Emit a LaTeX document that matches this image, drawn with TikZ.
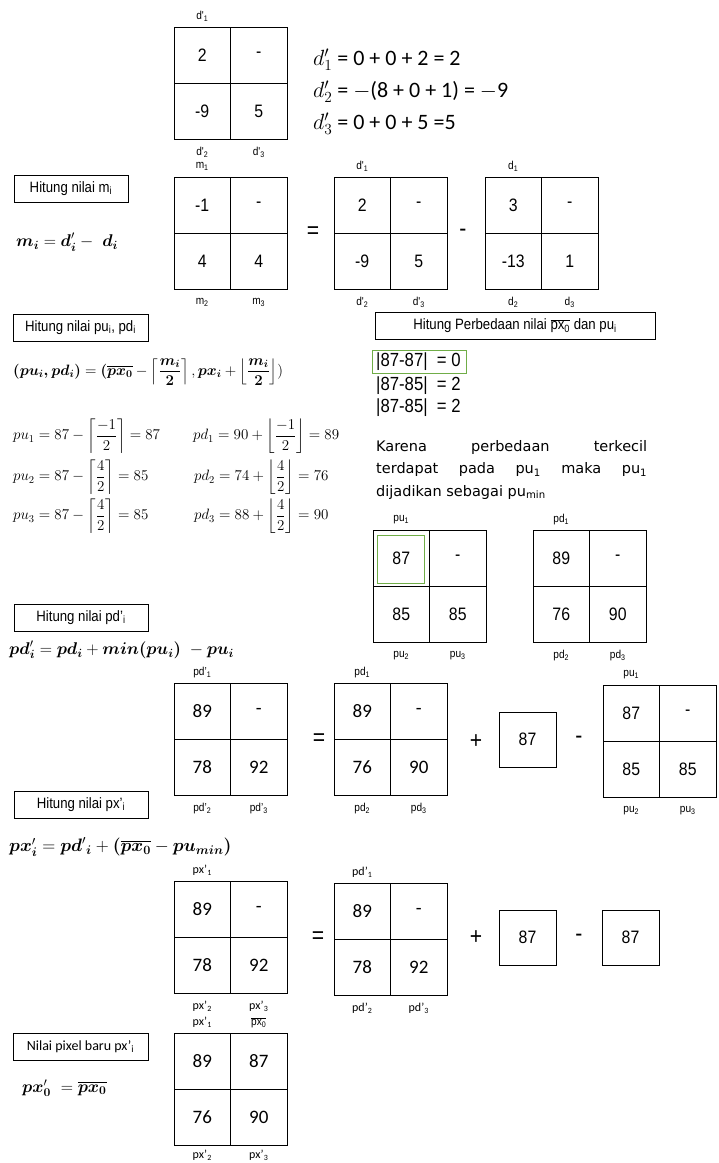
\RequirePackage{fix-cm}
\documentclass[tikz,border=0pt]{standalone}
\usepackage{amsmath}
\usepackage{fontspec}
\newfontfamily\nar[FakeStretch=0.88]{Liberation Sans}
\newfontfamily\crl{Carlito}
\newfontfamily\dvs{DejaVu Sans}
\definecolor{ogreen}{RGB}{112,173,71}
\tikzset{
 cell/.style={draw, line width=1pt, minimum width=56.5pt, minimum height=56pt, inner sep=0pt, font=\nar\fontsize{18}{20}\selectfont},
 ccell/.style={cell, font=\crl\fontsize{19}{22}\selectfont},
 kbox/.style={cell, minimum width=57pt, minimum height=55pt},
 lab/.style={inner sep=0pt, font=\nar\fontsize{11.5}{13}\selectfont},
 clab/.style={inner sep=0pt, font=\crl\fontsize{12}{14}\selectfont},
 hbox/.style={draw, line width=0.8pt, inner sep=0pt, minimum height=27pt, font=\nar\fontsize{15}{17}\selectfont},
 op/.style={inner sep=0pt, font=\nar\fontsize{24}{26}\selectfont},
 txt/.style={inner sep=0pt, anchor=west},
 fml/.style={txt, font=\fontsize{17}{20}\selectfont},
 eqn/.style={txt, font=\fontsize{15}{18}\selectfont},
 top/.style={txt, font=\crl\fontsize{22}{24}\selectfont},
 dif/.style={txt, font=\nar\fontsize{19}{21}\selectfont},
 gbox/.style={draw=ogreen, line width=1pt, inner sep=0pt}
}
\newcommand{\mtx}[8]{%
 \node[#8] (#1a) at (#2+28.25,#3+28) {#4};
 \node[#8] (#1b) at (#2+84.75,#3+28) {#5};
 \node[#8] (#1c) at (#2+28.25,#3+84) {#6};
 \node[#8] (#1d) at (#2+84.75,#3+84) {#7};}
\newcommand{\mlab}[5]{%
 \path (#1a.north) ++(0,-10) node[#5] (#1t) {#2};
 \path (#1c.south) ++(0,13) node[#5] (#1u) {#3};
 \path (#1d.south) ++(0,13) node[#5] (#1v) {#4};}
\newcommand{\pxbar}{$\overline{\mbox{px\textsubscript{0}}}$}
\newcommand{\bs}[1]{\boldsymbol{#1}}
\delimitershortfall=8pt
\begin{document}
\begin{tikzpicture}[x=1pt,y=-1pt]
\useasboundingbox[fill=white] (0,0) rectangle (719,1163);

% ---- d' matrix (top)
\mtx{D}{174}{27}{2}{-}{-9}{5}{cell}
\mlab{D}{d'\textsubscript{1}}{d'\textsubscript{2}}{d'\textsubscript{3}}{lab}
\node[top] (e1) at (313,60) {$d'_1$ = 0 + 0 + 2 = 2};
\node[top] (e2) at (313,92) {$d'_2$ = $-$(8 + 0 + 1) = $-$9};
\node[top] (e3) at (313,124) {$d'_3$ = 0 + 0 + 5 =5};

% ---- m
\node[hbox, minimum width=114pt] (hm) at (71,188.5) {Hitung nilai m\textsubscript{i}};
\node[fml] (fm) at (16,242) {$\bs{m}_{\bs{i}} = \bs{d}'_{\bs{i}} -\ \bs{d}_{\bs{i}}$};
\mtx{M}{174}{177}{-1}{-}{4}{4}{cell}
\mlab{M}{m\textsubscript{1}}{m\textsubscript{2}}{m\textsubscript{3}}{lab}
\node[op] (eq1) at (313,233) {=};
\mtx{Dp}{334}{177}{2}{-}{-9}{5}{cell}
\mlab{Dp}{d'\textsubscript{1}}{d'\textsubscript{2}}{d'\textsubscript{3}}{lab}
\node[op] (mi1) at (463,233) {-};
\mtx{Dd}{485}{177}{3}{-}{-13}{1}{cell}
\mlab{Dd}{d\textsubscript{1}}{d\textsubscript{2}}{d\textsubscript{3}}{lab}

% ---- pu, pd
\node[hbox, minimum width=135pt] (hp) at (80.5,327.5) {Hitung nilai pu\textsubscript{i}, pd\textsubscript{i}};
\node[txt, font=\fontsize{15}{18}\selectfont] (fp) at (13,372) {$\bs{(pu_i, pd_i)} = \bs{(}\overline{\bs{px_0}} - \left\lceil\dfrac{\bs{m_i}}{\bs{2}}\right\rceil, \bs{px_i} + \left\lfloor\dfrac{\bs{m_i}}{\bs{2}}\right\rfloor)$};
\node[eqn] (u1) at (13,436) {$pu_1 = 87 - \left\lceil\dfrac{-1}{2}\right\rceil = 87$};
\node[eqn] (u2) at (13,477) {$pu_2 = 87 - \left\lceil\dfrac{4}{2}\right\rceil = 85$};
\node[eqn] (u3) at (13,516) {$pu_3 = 87 - \left\lceil\dfrac{4}{2}\right\rceil = 85$};
\node[eqn] (d1) at (193,436) {$pd_1 = 90 + \left\lfloor\dfrac{-1}{2}\right\rfloor = 89$};
\node[eqn] (d2) at (194,477) {$pd_2 = 74 + \left\lfloor\dfrac{4}{2}\right\rfloor = 76$};
\node[eqn] (d3) at (194,516) {$pd_3 = 88 + \left\lfloor\dfrac{4}{2}\right\rfloor = 90$};

% ---- perbedaan
\node[hbox, minimum width=280pt] (hb) at (515,326) {Hitung Perbedaan nilai \pxbar\ dan pu\textsubscript{i}};
\node[dif] (p1) at (376,362) {|87-87|\ \ = 0};
\node[dif] (p2) at (376,386) {|87-85|\ \ = 2};
\node[dif] (p3) at (376,408) {|87-85|\ \ = 2};
\node[gbox, minimum width=94pt, minimum height=23pt] (g1) at (419,361.5) {};
\node[anchor=north west, inner sep=0pt, text width=271pt, align=justify, font=\dvs\fontsize{14.5}{22.5}\selectfont] (kt) at (376,440)
 {\hyphenpenalty=10000 Karena perbedaan terkecil\linebreak terdapat pada pu\textsubscript{1} maka pu\textsubscript{1}\linebreak dijadikan sebagai pu\textsubscript{min}};
\mtx{PU}{373}{530}{87}{-}{85}{85}{cell}
\mlab{PU}{pu\textsubscript{1}}{pu\textsubscript{2}}{pu\textsubscript{3}}{lab}
\node[gbox, minimum width=47pt, minimum height=48pt] (g2) at (400.5,559) {};
\mtx{PD}{533}{530}{89}{-}{76}{90}{cell}
\mlab{PD}{pd\textsubscript{1}}{pd\textsubscript{2}}{pd\textsubscript{3}}{lab}

% ---- pd'
\node[hbox, minimum width=134pt] (hd) at (81,617.5) {Hitung nilai pd’\textsubscript{i}};
\node[fml] (fd) at (9,650) {$\bs{pd}'_{\bs{i}} = \bs{pd_i} + \bs{min(pu_i)}\ - \bs{pu_i}$};
\mtx{PDp}{174}{683}{89}{-}{78}{92}{ccell}
\mlab{PDp}{pd’\textsubscript{1}}{pd’\textsubscript{2}}{pd’\textsubscript{3}}{lab}
\node[op] (eq2) at (319,740) {=};
\mtx{PDb}{334}{683}{89}{-}{76}{90}{ccell}
\mlab{PDb}{pd\textsubscript{1}}{pd\textsubscript{2}}{pd\textsubscript{3}}{lab}
\node[op] (pl2) at (476,742) {+};
\node[kbox] (k2) at (527.5,739.5) {87};
\node[op] (mi2) at (579,740) {-};
\mtx{PUb}{603}{685}{87}{-}{85}{85}{cell}
\mlab{PUb}{pu\textsubscript{1}}{pu\textsubscript{2}}{pu\textsubscript{3}}{lab}

% ---- px'
\node[hbox, minimum width=134pt] (hx) at (81,804.5) {Hitung nilai px’\textsubscript{i}};
\node[fml, font=\fontsize{18}{21}\selectfont] (fx) at (9,847) {$\bs{px}'_{\bs{i}} = \bs{pd}'{}_{\bs{i}} + \bs{(}\overline{\bs{px_0}} - \bs{pu_{min})}$};
\mtx{PX}{174}{881}{89}{-}{78}{92}{ccell}
\mlab{PX}{px’\textsubscript{1}}{px’\textsubscript{2}}{px’\textsubscript{3}}{clab}
\node[op] (eq3) at (318,938) {=};
\mtx{PDc}{334}{883}{89}{-}{78}{92}{ccell}
\mlab{PDc}{pd’\textsubscript{1}}{pd’\textsubscript{2}}{pd’\textsubscript{3}}{clab}
\node[op] (pl3) at (476,938) {+};
\node[kbox] (k3) at (527.5,937.5) {87};
\node[op] (mi3) at (579,938) {-};
\node[kbox] (k4) at (630.5,937.5) {87};

% ---- final
\node[hbox, minimum width=135pt, font=\crl\fontsize{14}{16}\selectfont] (hn) at (80.5,1046.5) {Nilai pixel baru px’\textsubscript{i}};
\node[fml] (fn) at (22,1088) {$\bs{px}'_{\bs{0}}\ = \overline{\bs{px_0}}$};
\mtx{F}{174}{1033}{89}{87}{76}{90}{ccell}
\path (Fa.north) ++(0,-10) node[clab] (Ft) {px’\textsubscript{1}};
\path (Fb.north) ++(0,-10) node[lab] (Fs) {\pxbar};
\path (Fc.south) ++(0,10) node[clab] (Fu) {px’\textsubscript{2}};
\path (Fd.south) ++(0,10) node[clab] (Fv) {px’\textsubscript{3}};
\end{tikzpicture}
\end{document}
